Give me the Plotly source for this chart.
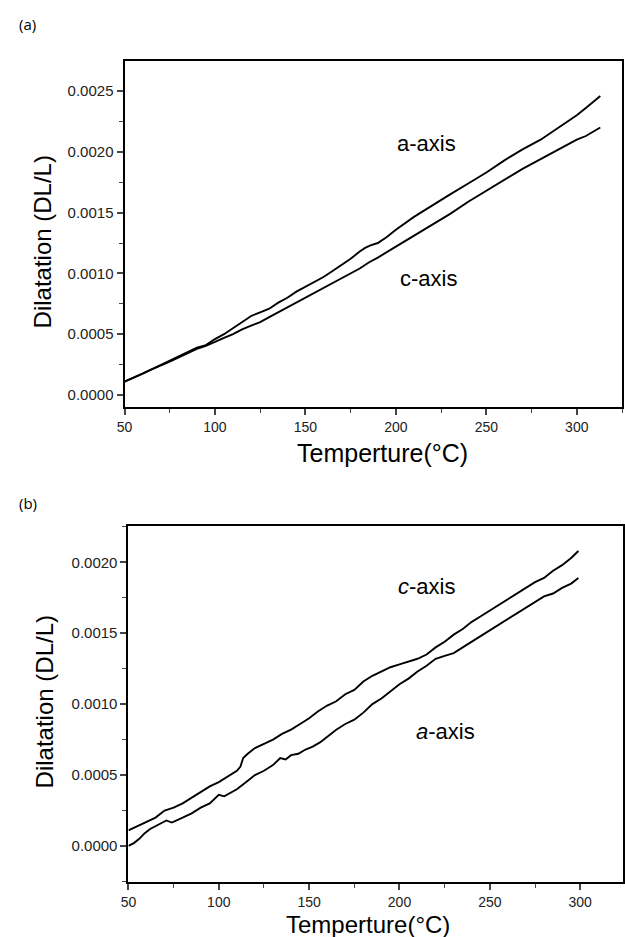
import plotly.graph_objects as go

# ---------- Panel (a) ----------
a_T_a = [50, 55, 60, 65, 70, 75, 80, 85, 90, 95, 100, 105, 110, 115, 120, 125, 130, 135, 140, 145,
         150, 155, 160, 165, 170, 175, 180, 183, 186, 190, 195, 200, 210, 220, 230, 240, 250, 260,
         270, 280, 290, 300, 305, 310, 313]
a_axis_a = [0.00011, 0.00014, 0.000175, 0.00021, 0.000245, 0.00028, 0.00032, 0.000355, 0.00039, 0.00041,
            0.00046, 0.0005, 0.00055, 0.0006, 0.00065, 0.00068, 0.00071, 0.00076, 0.0008, 0.00085,
            0.00089, 0.00093, 0.00097, 0.00102, 0.00107, 0.00112, 0.00118, 0.00121, 0.00123, 0.00125,
            0.0013, 0.00136, 0.001465, 0.00156, 0.00165, 0.00174, 0.00183, 0.00193, 0.00202, 0.0021,
            0.0022, 0.0023, 0.00236, 0.00242, 0.00246]
a_T_c = [50, 55, 60, 65, 70, 75, 80, 85, 90, 95, 100, 105, 110, 115, 120, 125, 130, 135, 140, 145,
         150, 155, 160, 165, 170, 175, 180, 185, 190, 200, 210, 220, 230, 240, 250, 260, 270, 280,
         290, 300, 305, 310, 313]
c_axis_a = [0.00011, 0.00014, 0.000175, 0.00021, 0.00024, 0.000275, 0.00031, 0.000345, 0.00038, 0.000405,
            0.00044, 0.00047, 0.0005, 0.00054, 0.00057, 0.0006, 0.00064, 0.00068, 0.00072, 0.00076,
            0.0008, 0.00084, 0.00088, 0.00092, 0.00096, 0.001, 0.00104, 0.00109, 0.00113, 0.00122,
            0.00131, 0.0014, 0.00149, 0.00159, 0.00168, 0.00177, 0.00186, 0.00194, 0.00202, 0.0021,
            0.00213, 0.00217, 0.0022]

# ---------- Panel (b) ----------
b_T_c = [50, 55, 60, 65, 70, 75, 80, 85, 90, 95, 100, 105, 110, 112, 113.5, 116, 120, 125, 130, 135,
         140, 145, 150, 155, 160, 165, 170, 175, 180, 185, 190, 195, 200, 205, 210, 215, 220, 225, 230,
         235, 240, 245, 250, 255, 260, 265, 270, 275, 280, 285, 290, 295, 299]
c_axis_b = [0.00011, 0.00014, 0.00017, 0.0002, 0.00025, 0.00027, 0.0003, 0.00034, 0.00038, 0.00042,
            0.00045, 0.00049, 0.00053, 0.00056, 0.00062, 0.00065, 0.00069, 0.00072, 0.00075, 0.00079,
            0.00082, 0.00086, 0.0009, 0.00095, 0.00099, 0.00102, 0.00107, 0.0011, 0.00116, 0.0012,
            0.00123, 0.00126, 0.00128, 0.0013, 0.00132, 0.00135, 0.0014, 0.00144, 0.00149, 0.00153,
            0.00158, 0.00162, 0.00166, 0.0017, 0.00174, 0.00178, 0.00182, 0.00186, 0.00189, 0.00194,
            0.00198, 0.00203, 0.00208]
b_T_a = [50, 53, 56, 59, 62, 65, 68, 71, 74, 77, 80, 85, 90, 95, 100, 103, 106, 110, 115, 120, 125,
         130, 134, 137, 140, 144, 148, 152, 156, 160, 165, 170, 175, 180, 185, 190, 195, 200, 205, 210,
         215, 220, 225, 230, 235, 240, 245, 250, 255, 260, 265, 270, 275, 280, 285, 290, 295, 299]
a_axis_b = [0.0, 0.00002, 0.00005, 0.00009, 0.00012, 0.00014, 0.00016, 0.00018, 0.000165, 0.00018,
            0.0002, 0.00023, 0.00027, 0.0003, 0.00036, 0.00035, 0.00037, 0.0004, 0.00045, 0.0005,
            0.00053, 0.00057, 0.00062, 0.00061, 0.00064, 0.00065, 0.00068, 0.0007, 0.00073, 0.00077,
            0.00082, 0.00086, 0.00089, 0.00094, 0.001, 0.00104, 0.00109, 0.00114, 0.00118, 0.00123,
            0.00127, 0.00132, 0.00134, 0.00136, 0.0014, 0.00144, 0.00148, 0.00152, 0.00156, 0.0016,
            0.00164, 0.00168, 0.00172, 0.00176, 0.00178, 0.00182, 0.00185, 0.00189]

x_ticks = [50, 100, 150, 200, 250, 300]
y_ticks_a = [0.0, 0.0005, 0.001, 0.0015, 0.002, 0.0025]
y_ticks_b = [0.0, 0.0005, 0.001, 0.0015, 0.002]

W, H = 625, 937
FONT = "Liberation Sans, Arial, sans-serif"
line = dict(color="black", width=1.9)

fig = go.Figure()
fig.add_trace(go.Scatter(x=a_T_a, y=a_axis_a, mode="lines", line=line, xaxis="x", yaxis="y"))
fig.add_trace(go.Scatter(x=a_T_c, y=c_axis_a, mode="lines", line=line, xaxis="x", yaxis="y"))
fig.add_trace(go.Scatter(x=b_T_c, y=c_axis_b, mode="lines", line=line, xaxis="x2", yaxis="y2"))
fig.add_trace(go.Scatter(x=b_T_a, y=a_axis_b, mode="lines", line=line, xaxis="x2", yaxis="y2"))

def xax(domain, rng, anchor):
    return dict(domain=domain, range=rng, anchor=anchor, tickvals=x_ticks, ticks="outside",
                ticklen=6, tickwidth=1.5, showline=True, linewidth=2, linecolor="black", mirror=True,
                showgrid=False, zeroline=False, tickfont=dict(family=FONT, size=14, color="#222"),
                minor=dict(dtick=25, tick0=50, ticks="outside", ticklen=4, tickwidth=1.2, showgrid=False))

def yax(domain, rng, anchor, vals):
    return dict(domain=domain, range=rng, anchor=anchor, tickvals=vals, tickformat=".4f",
                ticks="outside", ticklen=6, tickwidth=1.5, showline=True, linewidth=2,
                linecolor="black", mirror=True, showgrid=False, zeroline=False,
                tickfont=dict(family=FONT, size=15, color="#222"),
                minor=dict(dtick=0.00025, tick0=0, ticks="outside", ticklen=4, tickwidth=1.2, showgrid=False))

fig.update_layout(
    width=W, height=H, margin=dict(l=0, r=0, t=0, b=0),
    paper_bgcolor="white", plot_bgcolor="white", showlegend=False,
    xaxis=xax([118.4 / W, 624 / W], [50, 325], "y"),
    yaxis=yax([1 - 407 / H, 1 - 61 / H], [-0.0000987, 0.002747], "x", y_ticks_a),
    xaxis2=xax([122.4 / W, 1.0], [50, 323.7], "y2"),
    yaxis2=yax([1 - 881.7 / H, 1 - 526 / H], [-0.000252, 0.002256], "x2", y_ticks_b),
)

def pa(text, px, py, size, angle=0, fam=FONT):
    fig.add_annotation(text=text, x=px / W, y=1 - py / H, xref="paper", yref="paper",
                       showarrow=False, textangle=angle, xanchor="center", yanchor="middle",
                       font=dict(family=fam, size=size, color="black"))

pa("(a)", 20, 24, 15, fam="Open Sans, sans-serif")
pa("(b)", 20, 503, 15, fam="Open Sans, sans-serif")
pa("Dilatation (DL/L)", 35, 242, 24, angle=-90)
pa("Dilatation (DL/L)", 37, 702, 24, angle=-90)
pa("Temperture(°C)", 381, 453, 25)
pa("Temperture(°C)", 366, 924, 24)

ann_font = dict(family=FONT, size=22, color="black")
fig.add_annotation(text="a-axis", x=216.8, y=0.002072, xref="x", yref="y", showarrow=False, font=ann_font)
fig.add_annotation(text="c-axis", x=217.9, y=0.000962, xref="x", yref="y", showarrow=False, font=ann_font)
fig.add_annotation(text="<i>c</i>-axis", x=215.2, y=0.001828, xref="x2", yref="y2", showarrow=False, font=ann_font)
fig.add_annotation(text="<i>a</i>-axis", x=225.2, y=0.000807, xref="x2", yref="y2", showarrow=False, font=ann_font)

fig.write_html("out.html", config={"displayModeBar": False},
               post_script="document.body.style.margin='0';document.body.style.overflow='hidden';")
